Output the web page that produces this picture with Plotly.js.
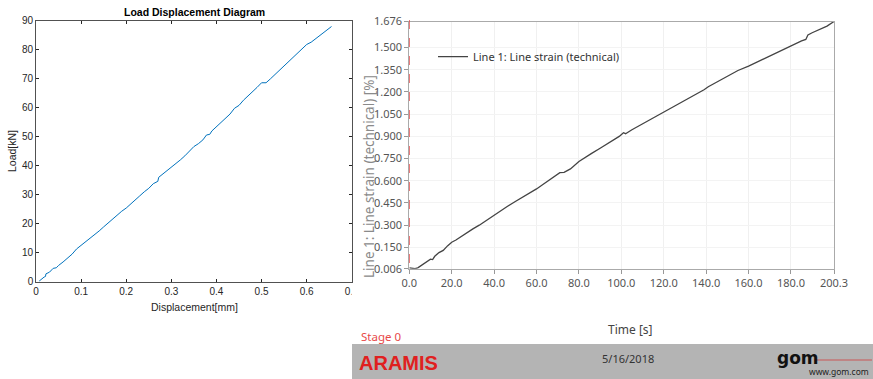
<!DOCTYPE html>
<html><head><meta charset="utf-8">
<script src="https://cdn.plot.ly/plotly-3.0.1.min.js"></script>
<style>html,body{margin:0;padding:0;background:#fff}#c{width:873px;height:379px}</style>
</head><body><div id="c"></div>
<script>
// Left: Load-Displacement
const displacement = [0.007,0.012,0.018,0.021,0.022,0.03,0.038,0.045,0.05,0.06,0.07,0.08,0.09,0.1,0.11,0.12,0.13,0.14,0.15,0.16,0.17,0.18,0.19,0.2,0.21,0.22,0.23,0.24,0.25,0.26,0.27,0.272,0.28,0.29,0.3,0.31,0.32,0.33,0.34,0.35,0.36,0.37,0.378,0.385,0.39,0.4,0.41,0.42,0.43,0.44,0.45,0.46,0.47,0.48,0.49,0.5,0.51,0.52,0.53,0.54,0.545,0.55,0.56,0.57,0.58,0.59,0.6,0.61,0.62,0.63,0.64,0.65,0.655];
const load = [0.2,1.0,1.6,1.8,2.7,3.3,4.6,4.8,5.6,6.8,8.1,9.5,11.3,12.5,13.7,14.9,16.3,17.5,18.9,20.3,21.5,23.0,24.3,25.4,26.7,28.2,29.6,31.0,32.2,33.8,34.6,36.0,37.0,38.2,39.3,40.6,42.0,43.4,45.0,46.6,47.6,48.9,50.6,50.8,52.0,53.5,55.0,56.4,57.8,59.8,60.8,62.6,64.0,65.6,67.0,68.6,68.6,70.0,71.5,72.8,73.8,74.6,76.0,77.4,78.8,80.3,81.8,82.6,83.8,85.0,86.2,87.4,88.0];
const loadXTicks = [0,0.1,0.2,0.3,0.4,0.5,0.6,0.7];
const loadXTickText = ['0','0.1','0.2','0.3','0.4','0.5','0.6','0.7'];
const loadYTicks = [0,10,20,30,40,50,60,70,80,90];

// Right: ARAMIS strain vs time
const time = [0,1,2.7,4,6,8,10,11,12,14,16,18,20,22,25,28,30,33,36,40,43,46,50,53,56,60,63,66,69,71,73,76,80,83,86,90,93,96,99,101,102,105,110,115,120,125,130,135,139,141,145,150,153,155,160,165,170,175,180,185,187,188,190,193,197,200.3];
const strain = [0.012,0.008,0.006,0.012,0.03,0.05,0.07,0.068,0.09,0.115,0.13,0.16,0.185,0.2,0.23,0.255,0.275,0.3,0.33,0.37,0.395,0.425,0.46,0.485,0.51,0.545,0.575,0.605,0.63,0.655,0.657,0.68,0.73,0.76,0.785,0.82,0.845,0.87,0.9,0.925,0.918,0.945,0.985,1.025,1.06,1.1,1.14,1.18,1.215,1.235,1.265,1.305,1.33,1.345,1.375,1.41,1.44,1.475,1.515,1.545,1.555,1.585,1.6,1.62,1.645,1.676];
const timeTicks = [0,20,40,60,80,100,120,140,160,180,200.3];
const timeTickText = ['0.0','20.0','40.0','60.0','80.0','100.0','120.0','140.0','160.0','180.0','200.3'];
const strainTicks = [0.006,0.15,0.3,0.45,0.6,0.75,0.9,1.05,1.2,1.35,1.5,1.676];
const strainTickText = ['0.006','0.150','0.300','0.450','0.600','0.750','0.900','1.050','1.200','1.350','1.500','1.676'];

const W=873,H=379;
const px = v=>v/W, py = v=>1-v/H;

const traces = [
 {x:displacement,y:load,type:'scatter',mode:'lines',line:{color:'#0072BD',width:1},xaxis:'x',yaxis:'y',showlegend:false,hoverinfo:'skip'},
 {x:time,y:strain,type:'scatter',mode:'lines',line:{color:'#444',width:1.3},xaxis:'x2',yaxis:'y2',name:'Line 1: Line strain (technical)',showlegend:true,hoverinfo:'skip'}
];

const mFont = {family:'"Liberation Sans", Arial, sans-serif',size:10,color:'#262626'};
const aFont = {family:'"Noto Sans", "DejaVu Sans", sans-serif',size:11,color:'#555'};
function ann(text,x,y,font,extra){return Object.assign({text:text,xref:'paper',yref:'paper',x:px(x),y:py(y),xanchor:'center',yanchor:'middle',showarrow:false,font:font},extra||{});}

const layout = {
 width:W,height:H,margin:{l:0,r:0,t:0,b:0},paper_bgcolor:'#fff',plot_bgcolor:'#fff',
 xaxis:{domain:[px(36),px(351.8)],range:[0,0.7],tickvals:loadXTicks,ticktext:loadXTickText,ticks:'inside',ticklen:3,tickcolor:'#262626',
   showline:true,linecolor:'#262626',linewidth:0.8,mirror:'ticks',showgrid:false,zeroline:false,tickfont:mFont,anchor:'y'},
 yaxis:{domain:[py(281.7),py(20.7)],range:[0,90],tickvals:loadYTicks,ticks:'inside',ticklen:3,tickcolor:'#262626',
   showline:true,linecolor:'#262626',linewidth:0.8,mirror:'ticks',showgrid:false,zeroline:false,tickfont:mFont,anchor:'x'},
 xaxis2:{domain:[px(409.3),px(834)],range:[0,200.3],tickvals:timeTicks,ticktext:timeTickText,ticks:'outside',ticklen:4,tickcolor:'#999',
   showline:true,linecolor:'#aaa',linewidth:1,mirror:true,showgrid:true,gridcolor:'#f0f0f0',zeroline:false,tickfont:aFont,anchor:'y2'},
 yaxis2:{domain:[py(268.7),py(21.5)],range:[0.006,1.676],tickvals:strainTicks,ticktext:strainTickText,ticks:'outside',ticklen:4,tickcolor:'#999',
   showline:true,linecolor:'#aaa',linewidth:1,mirror:true,showgrid:true,gridcolor:'#f3f3f3',zeroline:false,tickfont:aFont,anchor:'x2'},
 showlegend:true,
 legend:{x:px(433),y:py(56.7),xanchor:'left',yanchor:'middle',bgcolor:'rgba(0,0,0,0)',font:{family:'"Noto Sans", sans-serif',size:11,color:'#333'}},
 shapes:[
  {type:'line',xref:'x2',yref:'paper',x0:0,x1:0,y0:py(20),y1:py(270),line:{color:'#e03a3a',width:1.3,dash:'dash'}},
  {type:'rect',xref:'paper',yref:'paper',x0:px(352),x1:1,y0:0,y1:py(344),fillcolor:'#b4b4b4',line:{width:0},layer:'below'},
  {type:'rect',xref:'paper',yref:'paper',x0:px(351.6),x1:px(366),y0:py(298),y1:py(284),fillcolor:'#fff',line:{width:0},layer:'above'},
  {type:'line',xref:'paper',yref:'paper',x0:px(814),x1:px(872),y0:py(360),y1:py(360),line:{color:'#d04040',width:0.8}}
 ],
 annotations:[
  ann('<b>Load Displacement Diagram</b>',194,11.5,{family:'"Liberation Sans", Arial, sans-serif',size:10.5,color:'#000'}),
  ann('Displacement[mm]',194,307,{family:'"Liberation Sans", Arial, sans-serif',size:10.5,color:'#262626'}),
  ann('Load[kN]',12,151,{family:'"Liberation Sans", Arial, sans-serif',size:10.5,color:'#262626'},{textangle:-90}),
  ann('Line 1: Line strain (technical) [%]',369,177,{family:'"Noto Sans", sans-serif',size:13.5,color:'#8a8a8a'},{textangle:-90}),
  ann('Time [s]',630,329,{family:'"Noto Sans", sans-serif',size:12,color:'#444'}),
  ann('Stage 0',359,336,{family:'"Noto Sans", sans-serif',size:11.5,color:'#e84848'},{xanchor:'left'}),
  ann('<b>ARAMIS</b>',357,363,{family:'"Liberation Sans", Arial, sans-serif',size:20,color:'#e02020'},{xanchor:'left'}),
  ann('5/16/2018',628,358,{family:'"Noto Sans", sans-serif',size:11,color:'#333'}),
  ann('<b>gom</b>',798,358,{family:'"DejaVu Sans", sans-serif',size:17,color:'#111'}),
  ann('www.gom.com',871,371,{family:'"Noto Sans", sans-serif',size:8.5,color:'#222'},{xanchor:'right'})
 ]
};
Plotly.newPlot('c',traces,layout,{staticPlot:true,displayModeBar:false});
</script></body></html>
